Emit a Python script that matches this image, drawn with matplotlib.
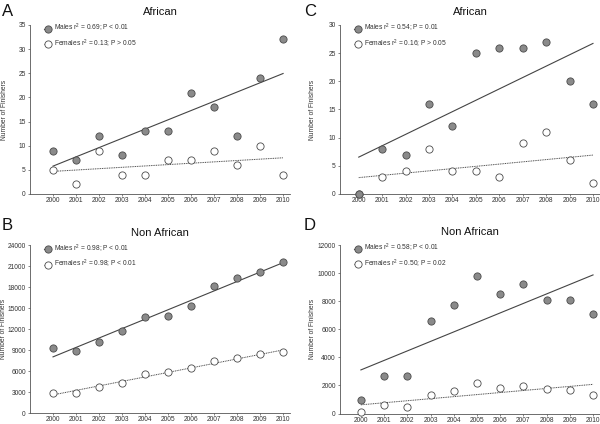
import numpy as np
import matplotlib
matplotlib.use("Agg")
import matplotlib.pyplot as plt

plt.rcParams['font.family'] = ['Liberation Sans', 'DejaVu Sans']
plt.rcParams['mathtext.fontset'] = 'custom'
plt.rcParams['mathtext.rm'] = 'Liberation Sans'
plt.rcParams['mathtext.it'] = 'Liberation Sans'

years = np.arange(2000, 2011)

a_males = [9, 7, 12, 8, 13, 13, 21, 18, 12, 24, 32]
a_females = [5, 2, 9, 4, 4, 7, 7, 9, 6, 10, 4]
b_males = [9350, 8950, 10200, 11700, 13800, 13950, 15350, 18250, 19350, 20150, 21600]
b_females = [2850, 2950, 3750, 4250, 5650, 5850, 6400, 7450, 7850, 8450, 8700]
c_males = [0, 8, 7, 16, 12, 25, 26, 26, 27, 20, 16]
c_females = [0, 3, 4, 8, 4, 4, 3, 9, 11, 6, 2]
d_males = [930, 2680, 2680, 6600, 7750, 9770, 8500, 9220, 8100, 8060, 7060]
d_females = [100, 570, 450, 1350, 1600, 2150, 1850, 1980, 1760, 1680, 1330]

W, H = 600, 424

panels = [
    dict(letter="A", title="African", males=a_males, females=a_females,
         ymax=35, yticks=np.arange(0, 36, 5),
         mlab="Males r$^{2}$ = 0.69; P < 0.01", flab="Females r$^{2}$ = 0.13; P > 0.05",
         px=(30, 25, 290, 194), xlim=(1999, 2010.3), lpos=(2, 12), ylx=8),
    dict(letter="C", title="African", males=c_males, females=c_females,
         ymax=30, yticks=np.arange(0, 31, 5),
         mlab="Males r$^{2}$ = 0.54; P = 0.01", flab="Females r$^{2}$ = 0.16; P > 0.05",
         px=(340, 25, 600, 194), xlim=(1999.2, 2010.3), lpos=(304, 12), ylx=316),
    dict(letter="B", title="Non African", males=b_males, females=b_females,
         ymax=24000, yticks=np.arange(0, 24001, 3000),
         mlab="Males r$^{2}$ = 0.98; P < 0.01", flab="Females r$^{2}$ = 0.98; P < 0.01",
         px=(30, 245.3, 290, 413.2), xlim=(1999, 2010.3), lpos=(2, 225), ylx=7),
    dict(letter="D", title="Non African", males=d_males, females=d_females,
         ymax=12000, yticks=np.arange(0, 12001, 2000),
         mlab="Males r$^{2}$ = 0.58; P < 0.01", flab="Females r$^{2}$ = 0.50; P = 0.02",
         px=(340, 245, 600, 413.5), xlim=(1999.1, 2010.3), lpos=(304, 225), ylx=316),
]

grey_fill = "#8a8a8a"
edge = "#4a4a4a"
line_c = "#444444"
txt_c = "#333333"

fig = plt.figure(figsize=(6, 4.24), dpi=100)

for p in panels:
    x0, y0, x1, y1 = p["px"]
    ax = fig.add_axes([x0 / W, 1 - y1 / H, (x1 - x0) / W, (y1 - y0) / H])
    m = np.array(p["males"], dtype=float)
    f = np.array(p["females"], dtype=float)
    km = np.polyfit(years, m, 1)
    kf = np.polyfit(years, f, 1)
    ax.plot(years, np.polyval(kf, years), color=line_c, lw=0.7, ls=(0, (1, 0.8)), zorder=2)
    ax.plot(years, np.polyval(km, years), color=line_c, lw=0.8, zorder=2)
    ax.plot(years, f, 'o', ms=5.2, mfc="white", mec=edge, mew=0.6, zorder=3, clip_on=False)
    ax.plot(years, m, 'o', ms=5.2, mfc=grey_fill, mec=edge, mew=0.6, zorder=4, clip_on=False)
    hm, = ax.plot([], [], marker='o', ms=5.2, mfc=grey_fill, mec=edge, mew=0.6,
                  color=line_c, lw=0.8)
    hf, = ax.plot([], [], marker='o', ms=5.2, mfc="white", mec=edge, mew=0.6,
                  color=line_c, lw=0.7, ls=(0, (1, 0.8)))
    leg = ax.legend([hm, hf], [p["mlab"], p["flab"]], loc="upper left",
                    bbox_to_anchor=(0.04, 1.04), frameon=False, fontsize=4.8,
                    handlelength=1.0, handletextpad=0.4, labelspacing=0.5,
                    borderaxespad=0.2)
    for t in leg.get_texts():
        t.set_color(txt_c)
    ax.set_xlim(*p["xlim"])
    ax.set_ylim(0, p["ymax"])
    ax.set_xticks(years)
    ax.set_xticklabels([str(y) for y in years])
    ax.set_yticks(p["yticks"])
    for s in ["top", "right"]:
        ax.spines[s].set_visible(False)
    for s in ["left", "bottom"]:
        ax.spines[s].set_color("#555555")
        ax.spines[s].set_linewidth(0.6)
    ax.tick_params(axis="both", labelsize=4.8, length=1.5, width=0.5,
                   colors="#555555", labelcolor=txt_c, pad=1.5)
    ax.tick_params(axis="x", pad=1.0, length=1.2)
    ax.set_ylabel("Number of Finishers", fontsize=4.8, color=txt_c)
    ax.yaxis.set_label_coords((p["ylx"] - x0) / (x1 - x0), 0.5)
    ax.set_title(p["title"], fontsize=8, color="#111111", pad=7)
    lx, ly = p["lpos"]
    fig.text(lx / W, 1 - ly / H, p["letter"], fontsize=12,
             ha="left", va="center", color="#111111")

fig.savefig("out.png", dpi=100)
